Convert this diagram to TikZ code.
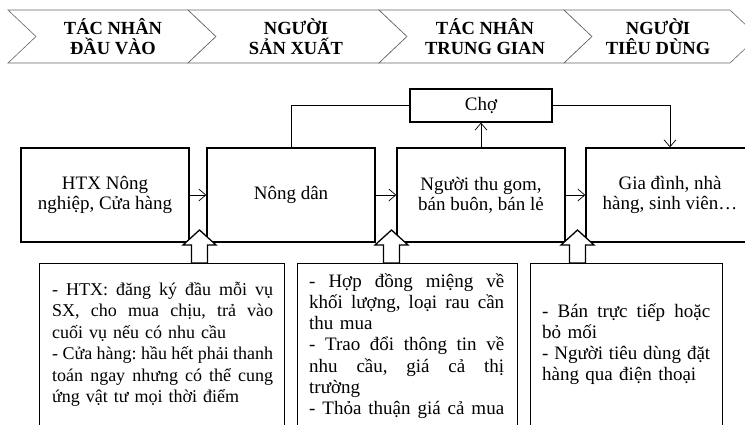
\documentclass[tikz,border=0pt]{standalone}
\usepackage{fontspec}
\setmainfont{Liberation Serif}
\usetikzlibrary{arrows.meta}
\newcommand\jline[1]{{\frenchspacing\spaceskip=0.25em plus 2em minus 0.08em\makebox[\hsize][s]{#1}}}
\begin{document}
\begin{tikzpicture}[x=1pt,y=-1pt,
  chev/.style={draw=black!60, line width=0.6pt, fill=white},
  chevtext/.style={font=\fontsize{18.5}{20}\selectfont\bfseries, align=center, inner sep=0},
  mainbox/.style={draw, line width=1.4pt, minimum width=168pt, minimum height=94pt, align=center, inner sep=0, font=\fontsize{19}{20}\selectfont, fill=white},
  chobox/.style={draw, line width=1.3pt, minimum width=142pt, minimum height=33pt, inner sep=0, font=\fontsize{19}{20}\selectfont, fill=white},
  conn/.style={line width=0.7pt, -{Straight Barb[length=7pt,width=12pt,line width=0.7pt]}},
  plainline/.style={line width=0.7pt},
  notebox/.style={draw, line width=1.2pt, anchor=north west, inner sep=0},
  notetextA/.style={anchor=base west, inner sep=0, align=left, font=\fontsize{18}{21.5}\selectfont\frenchspacing},
  notetextB/.style={anchor=base west, inner sep=0, align=left, font=\fontsize{19}{21.3}\selectfont\frenchspacing},
  blockarrow/.style={draw, line width=1.3pt, fill=white, line join=miter}
]
\useasboundingbox (0,0) rectangle (745,424);
\fill[white] (0,0) rectangle (745,424);
\begin{scope}
\clip (0,0) rectangle (745,424);
% chevrons
\draw[chev] (8,10) -- (188,10) -- (216,36.5) -- (188,63) -- (8,63) -- (36,36.5) -- cycle;
\draw[chev] (188,10) -- (379,10) -- (407,36.5) -- (379,63) -- (188,63) -- (216,36.5) -- cycle;
\draw[chev] (379,10) -- (564,10) -- (592,36.5) -- (564,63) -- (379,63) -- (407,36.5) -- cycle;
\draw[chev] (564,10) -- (730,10) -- (758,36.5) -- (730,63) -- (564,63) -- (592,36.5) -- cycle;
\node[chevtext] (h1) at (113,37) {TÁC NHÂN\\ĐẦU VÀO};
\node[chevtext] (h2) at (296,37) {NGƯỜI\\SẢN XUẤT};
\node[chevtext] (h3) at (485,37) {TÁC NHÂN\\TRUNG GIAN};
\node[chevtext] (h4) at (658,37) {NGƯỜI\\TIÊU DÙNG};
% main boxes
\node[mainbox] (b1) at (105,195) {HTX Nông\\nghiệp, Cửa hàng};
\node[mainbox] (b2) at (291,195) {Nông dân};
\node[mainbox] (b3) at (481,195) {Người thu gom,\\bán buôn, bán lẻ};
\node[mainbox] (b4) at (670,195) {Gia đình, nhà\\hàng, sinh viên…};
\node[chobox] (cho) at (481,105.5) {Chợ};
% connectors
\draw[conn] (b1.east) -- (b2.west);
\draw[conn] (b2.east) -- (b3.west);
\draw[conn] (b3.east) -- (b4.west);
\draw[plainline] (b2.north) |- (cho.west);
\draw[conn] (cho.east) -| (b4.north);
\draw[conn] (b3.north) -- (cho.south);
% block arrows
\foreach \cx in {199.5,391.5,577.5}{
  \draw[blockarrow] (\cx,230) -- (\cx+16.5,245) -- (\cx+8,245) -- (\cx+8,263) -- (\cx-8,263) -- (\cx-8,245) -- (\cx-16.5,245) -- cycle;
}
% note boxes
\node[notebox, minimum width=245pt, minimum height=200pt] (nA) at (39,263) {};
\node[notebox, minimum width=220pt, minimum height=200pt] (nB) at (297,263) {};
\node[notebox, minimum width=192pt, minimum height=200pt] (nC) at (530,263) {};
\node[notetextA, text width=221pt] (tA) at (52,295) {%
\jline{- HTX: đăng ký đầu mỗi vụ}\\
\jline{SX, cho mua chịu, trả vào}\\
cuối vụ nếu có nhu cầu\\
\jline{- Cửa hàng: hầu hết phải thanh}\\
\jline{toán ngay nhưng có thể cung}\\
ứng vật tư mọi thời điểm};
\node[notetextB, text width=195pt] (tB) at (309,287) {%
\jline{- Hợp đồng miệng về}\\
\jline{khối lượng, loại rau cần}\\
thu mua\\
\jline{- Trao đổi thông tin về}\\
\jline{nhu cầu, giá cả thị}\\
trường\\
\jline{- Thỏa thuận giá cả mua}};
\node[notetextB, text width=168pt] (tC) at (542,317) {%
\jline{- Bán trực tiếp hoặc}\\
bỏ mối\\
\jline{- Người tiêu dùng đặt}\\
hàng qua điện thoại};
\end{scope}
\end{tikzpicture}
\end{document}
